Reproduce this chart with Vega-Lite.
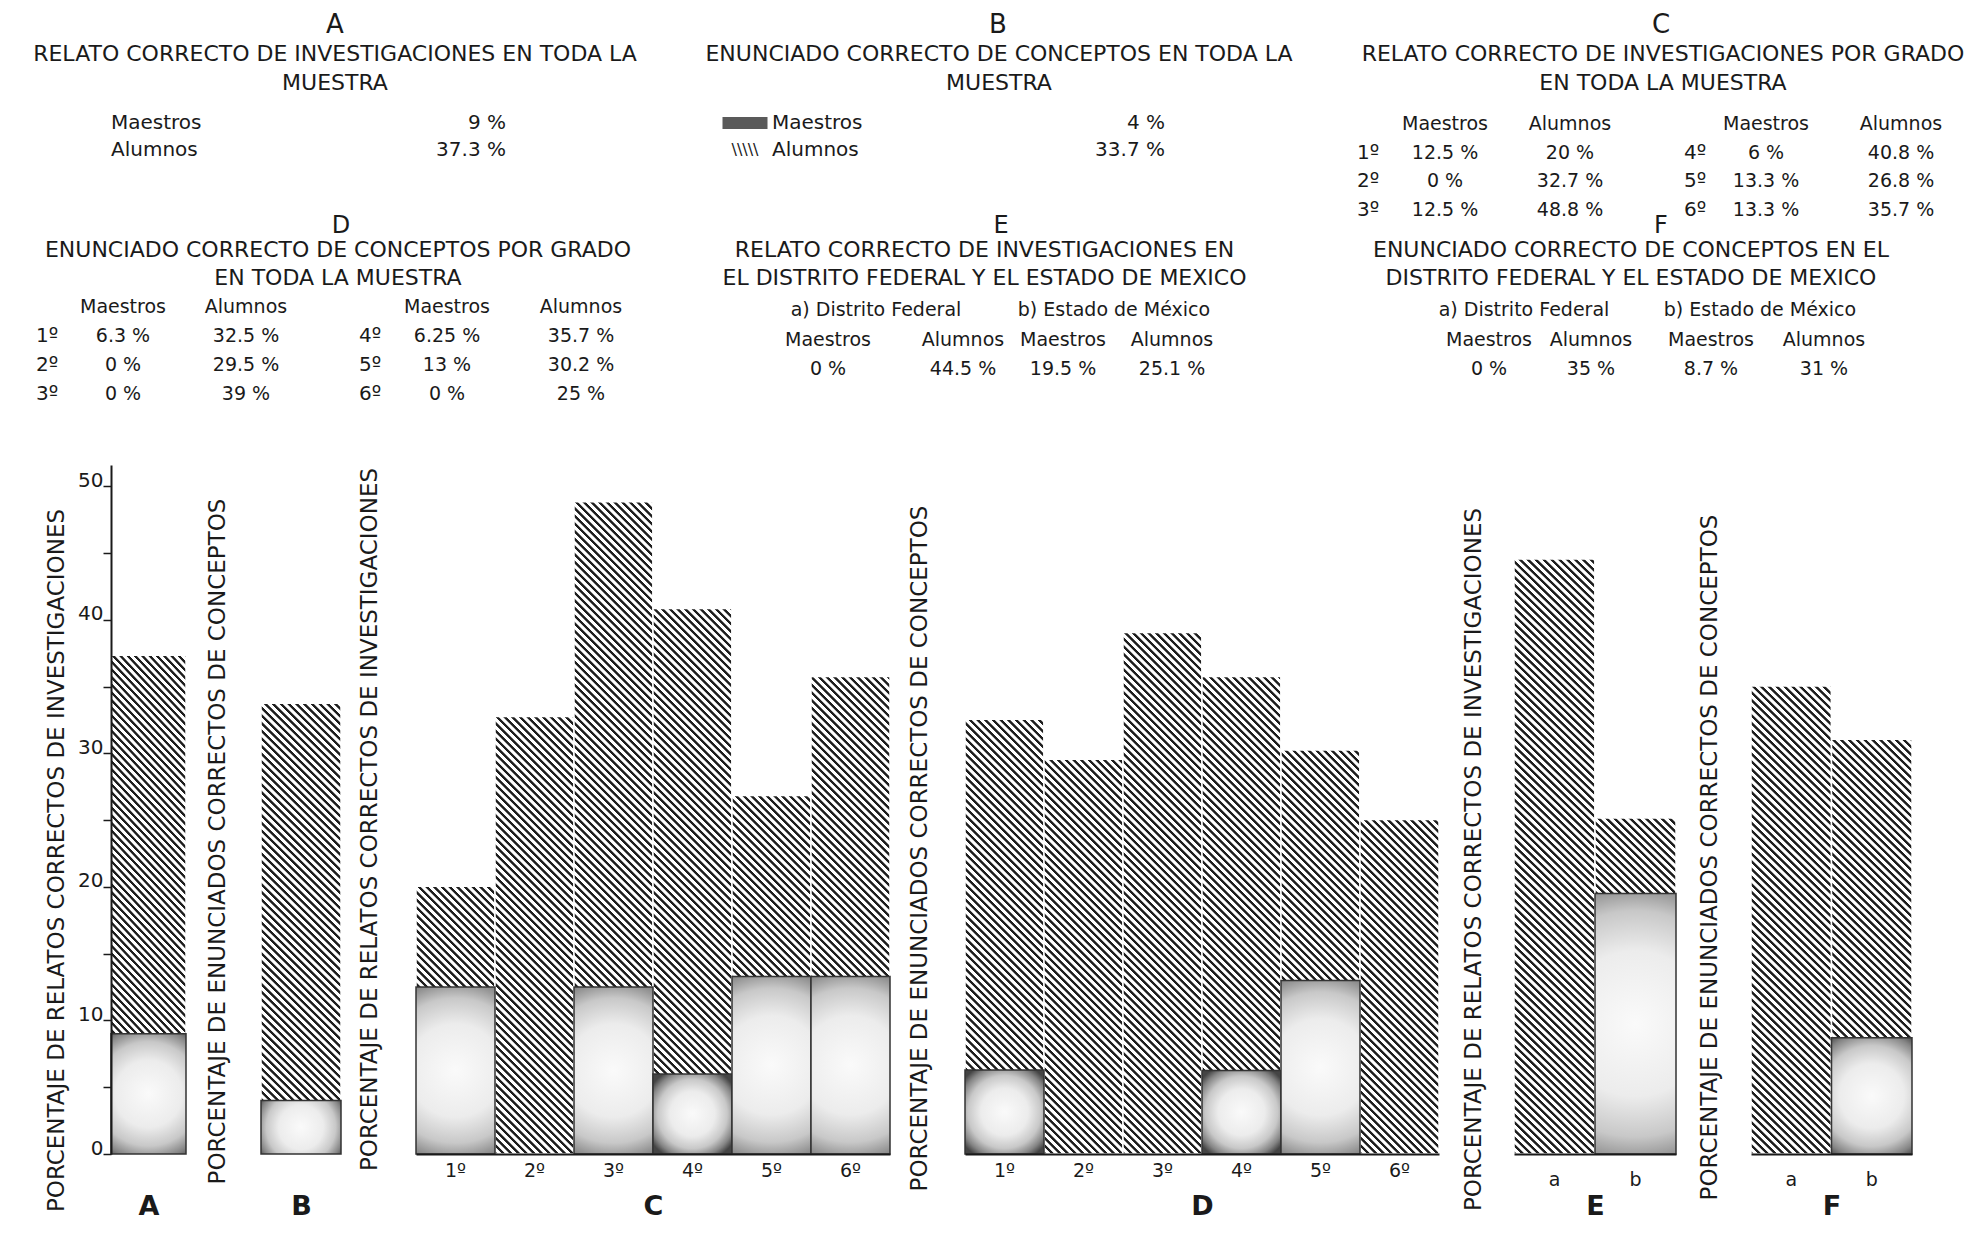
{
"$schema":"https://vega.github.io/schema/vega-lite/v6.json",
"autosize":"none",
"padding":{"left":111,"top":0,"right":1871,"bottom":1251},
"background":"white",
"config":{
 "view":{"stroke":null},
 "font":"DejaVu Sans",
 "text":{"font":"DejaVu Sans","color":"#1a1a1a"},
 "axis":{"labelFont":"DejaVu Sans","titleFont":"DejaVu Sans","grid":false},
 "bar":{"fill":{"gradient":"linear","x1":0,"y1":1,"x2":0.1261,"y2":-0.1002,"stops":[
{"offset":0.00,"color":"#1e1e1e"},{"offset":0.0033,"color":"#1e1e1e"},{"offset":0.0045,"color":"#fff"},{"offset":0.0090,"color":"#fff"},
{"offset":0.01,"color":"#1e1e1e"},{"offset":0.0133,"color":"#1e1e1e"},{"offset":0.0145,"color":"#fff"},{"offset":0.0190,"color":"#fff"},
{"offset":0.02,"color":"#1e1e1e"},{"offset":0.0233,"color":"#1e1e1e"},{"offset":0.0245,"color":"#fff"},{"offset":0.0290,"color":"#fff"},
{"offset":0.03,"color":"#1e1e1e"},{"offset":0.0333,"color":"#1e1e1e"},{"offset":0.0345,"color":"#fff"},{"offset":0.0390,"color":"#fff"},
{"offset":0.04,"color":"#1e1e1e"},{"offset":0.0433,"color":"#1e1e1e"},{"offset":0.0445,"color":"#fff"},{"offset":0.0490,"color":"#fff"},
{"offset":0.05,"color":"#1e1e1e"},{"offset":0.0533,"color":"#1e1e1e"},{"offset":0.0545,"color":"#fff"},{"offset":0.0590,"color":"#fff"},
{"offset":0.06,"color":"#1e1e1e"},{"offset":0.0633,"color":"#1e1e1e"},{"offset":0.0645,"color":"#fff"},{"offset":0.0690,"color":"#fff"},
{"offset":0.07,"color":"#1e1e1e"},{"offset":0.0733,"color":"#1e1e1e"},{"offset":0.0745,"color":"#fff"},{"offset":0.0790,"color":"#fff"},
{"offset":0.08,"color":"#1e1e1e"},{"offset":0.0833,"color":"#1e1e1e"},{"offset":0.0845,"color":"#fff"},{"offset":0.0890,"color":"#fff"},
{"offset":0.09,"color":"#1e1e1e"},{"offset":0.0933,"color":"#1e1e1e"},{"offset":0.0945,"color":"#fff"},{"offset":0.0990,"color":"#fff"},
{"offset":0.10,"color":"#1e1e1e"},{"offset":0.1033,"color":"#1e1e1e"},{"offset":0.1045,"color":"#fff"},{"offset":0.1090,"color":"#fff"},
{"offset":0.11,"color":"#1e1e1e"},{"offset":0.1133,"color":"#1e1e1e"},{"offset":0.1145,"color":"#fff"},{"offset":0.1190,"color":"#fff"},
{"offset":0.12,"color":"#1e1e1e"},{"offset":0.1233,"color":"#1e1e1e"},{"offset":0.1245,"color":"#fff"},{"offset":0.1290,"color":"#fff"},
{"offset":0.13,"color":"#1e1e1e"},{"offset":0.1333,"color":"#1e1e1e"},{"offset":0.1345,"color":"#fff"},{"offset":0.1390,"color":"#fff"},
{"offset":0.14,"color":"#1e1e1e"},{"offset":0.1433,"color":"#1e1e1e"},{"offset":0.1445,"color":"#fff"},{"offset":0.1490,"color":"#fff"},
{"offset":0.15,"color":"#1e1e1e"},{"offset":0.1533,"color":"#1e1e1e"},{"offset":0.1545,"color":"#fff"},{"offset":0.1590,"color":"#fff"},
{"offset":0.16,"color":"#1e1e1e"},{"offset":0.1633,"color":"#1e1e1e"},{"offset":0.1645,"color":"#fff"},{"offset":0.1690,"color":"#fff"},
{"offset":0.17,"color":"#1e1e1e"},{"offset":0.1733,"color":"#1e1e1e"},{"offset":0.1745,"color":"#fff"},{"offset":0.1790,"color":"#fff"},
{"offset":0.18,"color":"#1e1e1e"},{"offset":0.1833,"color":"#1e1e1e"},{"offset":0.1845,"color":"#fff"},{"offset":0.1890,"color":"#fff"},
{"offset":0.19,"color":"#1e1e1e"},{"offset":0.1933,"color":"#1e1e1e"},{"offset":0.1945,"color":"#fff"},{"offset":0.1990,"color":"#fff"},
{"offset":0.20,"color":"#1e1e1e"},{"offset":0.2033,"color":"#1e1e1e"},{"offset":0.2045,"color":"#fff"},{"offset":0.2090,"color":"#fff"},
{"offset":0.21,"color":"#1e1e1e"},{"offset":0.2133,"color":"#1e1e1e"},{"offset":0.2145,"color":"#fff"},{"offset":0.2190,"color":"#fff"},
{"offset":0.22,"color":"#1e1e1e"},{"offset":0.2233,"color":"#1e1e1e"},{"offset":0.2245,"color":"#fff"},{"offset":0.2290,"color":"#fff"},
{"offset":0.23,"color":"#1e1e1e"},{"offset":0.2333,"color":"#1e1e1e"},{"offset":0.2345,"color":"#fff"},{"offset":0.2390,"color":"#fff"},
{"offset":0.24,"color":"#1e1e1e"},{"offset":0.2433,"color":"#1e1e1e"},{"offset":0.2445,"color":"#fff"},{"offset":0.2490,"color":"#fff"},
{"offset":0.25,"color":"#1e1e1e"},{"offset":0.2533,"color":"#1e1e1e"},{"offset":0.2545,"color":"#fff"},{"offset":0.2590,"color":"#fff"},
{"offset":0.26,"color":"#1e1e1e"},{"offset":0.2633,"color":"#1e1e1e"},{"offset":0.2645,"color":"#fff"},{"offset":0.2690,"color":"#fff"},
{"offset":0.27,"color":"#1e1e1e"},{"offset":0.2733,"color":"#1e1e1e"},{"offset":0.2745,"color":"#fff"},{"offset":0.2790,"color":"#fff"},
{"offset":0.28,"color":"#1e1e1e"},{"offset":0.2833,"color":"#1e1e1e"},{"offset":0.2845,"color":"#fff"},{"offset":0.2890,"color":"#fff"},
{"offset":0.29,"color":"#1e1e1e"},{"offset":0.2933,"color":"#1e1e1e"},{"offset":0.2945,"color":"#fff"},{"offset":0.2990,"color":"#fff"},
{"offset":0.30,"color":"#1e1e1e"},{"offset":0.3033,"color":"#1e1e1e"},{"offset":0.3045,"color":"#fff"},{"offset":0.3090,"color":"#fff"},
{"offset":0.31,"color":"#1e1e1e"},{"offset":0.3133,"color":"#1e1e1e"},{"offset":0.3145,"color":"#fff"},{"offset":0.3190,"color":"#fff"},
{"offset":0.32,"color":"#1e1e1e"},{"offset":0.3233,"color":"#1e1e1e"},{"offset":0.3245,"color":"#fff"},{"offset":0.3290,"color":"#fff"},
{"offset":0.33,"color":"#1e1e1e"},{"offset":0.3333,"color":"#1e1e1e"},{"offset":0.3345,"color":"#fff"},{"offset":0.3390,"color":"#fff"},
{"offset":0.34,"color":"#1e1e1e"},{"offset":0.3433,"color":"#1e1e1e"},{"offset":0.3445,"color":"#fff"},{"offset":0.3490,"color":"#fff"},
{"offset":0.35,"color":"#1e1e1e"},{"offset":0.3533,"color":"#1e1e1e"},{"offset":0.3545,"color":"#fff"},{"offset":0.3590,"color":"#fff"},
{"offset":0.36,"color":"#1e1e1e"},{"offset":0.3633,"color":"#1e1e1e"},{"offset":0.3645,"color":"#fff"},{"offset":0.3690,"color":"#fff"},
{"offset":0.37,"color":"#1e1e1e"},{"offset":0.3733,"color":"#1e1e1e"},{"offset":0.3745,"color":"#fff"},{"offset":0.3790,"color":"#fff"},
{"offset":0.38,"color":"#1e1e1e"},{"offset":0.3833,"color":"#1e1e1e"},{"offset":0.3845,"color":"#fff"},{"offset":0.3890,"color":"#fff"},
{"offset":0.39,"color":"#1e1e1e"},{"offset":0.3933,"color":"#1e1e1e"},{"offset":0.3945,"color":"#fff"},{"offset":0.3990,"color":"#fff"},
{"offset":0.40,"color":"#1e1e1e"},{"offset":0.4033,"color":"#1e1e1e"},{"offset":0.4045,"color":"#fff"},{"offset":0.4090,"color":"#fff"},
{"offset":0.41,"color":"#1e1e1e"},{"offset":0.4133,"color":"#1e1e1e"},{"offset":0.4145,"color":"#fff"},{"offset":0.4190,"color":"#fff"},
{"offset":0.42,"color":"#1e1e1e"},{"offset":0.4233,"color":"#1e1e1e"},{"offset":0.4245,"color":"#fff"},{"offset":0.4290,"color":"#fff"},
{"offset":0.43,"color":"#1e1e1e"},{"offset":0.4333,"color":"#1e1e1e"},{"offset":0.4345,"color":"#fff"},{"offset":0.4390,"color":"#fff"},
{"offset":0.44,"color":"#1e1e1e"},{"offset":0.4433,"color":"#1e1e1e"},{"offset":0.4445,"color":"#fff"},{"offset":0.4490,"color":"#fff"},
{"offset":0.45,"color":"#1e1e1e"},{"offset":0.4533,"color":"#1e1e1e"},{"offset":0.4545,"color":"#fff"},{"offset":0.4590,"color":"#fff"},
{"offset":0.46,"color":"#1e1e1e"},{"offset":0.4633,"color":"#1e1e1e"},{"offset":0.4645,"color":"#fff"},{"offset":0.4690,"color":"#fff"},
{"offset":0.47,"color":"#1e1e1e"},{"offset":0.4733,"color":"#1e1e1e"},{"offset":0.4745,"color":"#fff"},{"offset":0.4790,"color":"#fff"},
{"offset":0.48,"color":"#1e1e1e"},{"offset":0.4833,"color":"#1e1e1e"},{"offset":0.4845,"color":"#fff"},{"offset":0.4890,"color":"#fff"},
{"offset":0.49,"color":"#1e1e1e"},{"offset":0.4933,"color":"#1e1e1e"},{"offset":0.4945,"color":"#fff"},{"offset":0.4990,"color":"#fff"},
{"offset":0.50,"color":"#1e1e1e"},{"offset":0.5033,"color":"#1e1e1e"},{"offset":0.5045,"color":"#fff"},{"offset":0.5090,"color":"#fff"},
{"offset":0.51,"color":"#1e1e1e"},{"offset":0.5133,"color":"#1e1e1e"},{"offset":0.5145,"color":"#fff"},{"offset":0.5190,"color":"#fff"},
{"offset":0.52,"color":"#1e1e1e"},{"offset":0.5233,"color":"#1e1e1e"},{"offset":0.5245,"color":"#fff"},{"offset":0.5290,"color":"#fff"},
{"offset":0.53,"color":"#1e1e1e"},{"offset":0.5333,"color":"#1e1e1e"},{"offset":0.5345,"color":"#fff"},{"offset":0.5390,"color":"#fff"},
{"offset":0.54,"color":"#1e1e1e"},{"offset":0.5433,"color":"#1e1e1e"},{"offset":0.5445,"color":"#fff"},{"offset":0.5490,"color":"#fff"},
{"offset":0.55,"color":"#1e1e1e"},{"offset":0.5533,"color":"#1e1e1e"},{"offset":0.5545,"color":"#fff"},{"offset":0.5590,"color":"#fff"},
{"offset":0.56,"color":"#1e1e1e"},{"offset":0.5633,"color":"#1e1e1e"},{"offset":0.5645,"color":"#fff"},{"offset":0.5690,"color":"#fff"},
{"offset":0.57,"color":"#1e1e1e"},{"offset":0.5733,"color":"#1e1e1e"},{"offset":0.5745,"color":"#fff"},{"offset":0.5790,"color":"#fff"},
{"offset":0.58,"color":"#1e1e1e"},{"offset":0.5833,"color":"#1e1e1e"},{"offset":0.5845,"color":"#fff"},{"offset":0.5890,"color":"#fff"},
{"offset":0.59,"color":"#1e1e1e"},{"offset":0.5933,"color":"#1e1e1e"},{"offset":0.5945,"color":"#fff"},{"offset":0.5990,"color":"#fff"},
{"offset":0.60,"color":"#1e1e1e"},{"offset":0.6033,"color":"#1e1e1e"},{"offset":0.6045,"color":"#fff"},{"offset":0.6090,"color":"#fff"},
{"offset":0.61,"color":"#1e1e1e"},{"offset":0.6133,"color":"#1e1e1e"},{"offset":0.6145,"color":"#fff"},{"offset":0.6190,"color":"#fff"},
{"offset":0.62,"color":"#1e1e1e"},{"offset":0.6233,"color":"#1e1e1e"},{"offset":0.6245,"color":"#fff"},{"offset":0.6290,"color":"#fff"},
{"offset":0.63,"color":"#1e1e1e"},{"offset":0.6333,"color":"#1e1e1e"},{"offset":0.6345,"color":"#fff"},{"offset":0.6390,"color":"#fff"},
{"offset":0.64,"color":"#1e1e1e"},{"offset":0.6433,"color":"#1e1e1e"},{"offset":0.6445,"color":"#fff"},{"offset":0.6490,"color":"#fff"},
{"offset":0.65,"color":"#1e1e1e"},{"offset":0.6533,"color":"#1e1e1e"},{"offset":0.6545,"color":"#fff"},{"offset":0.6590,"color":"#fff"},
{"offset":0.66,"color":"#1e1e1e"},{"offset":0.6633,"color":"#1e1e1e"},{"offset":0.6645,"color":"#fff"},{"offset":0.6690,"color":"#fff"},
{"offset":0.67,"color":"#1e1e1e"},{"offset":0.6733,"color":"#1e1e1e"},{"offset":0.6745,"color":"#fff"},{"offset":0.6790,"color":"#fff"},
{"offset":0.68,"color":"#1e1e1e"},{"offset":0.6833,"color":"#1e1e1e"},{"offset":0.6845,"color":"#fff"},{"offset":0.6890,"color":"#fff"},
{"offset":0.69,"color":"#1e1e1e"},{"offset":0.6933,"color":"#1e1e1e"},{"offset":0.6945,"color":"#fff"},{"offset":0.6990,"color":"#fff"},
{"offset":0.70,"color":"#1e1e1e"},{"offset":0.7033,"color":"#1e1e1e"},{"offset":0.7045,"color":"#fff"},{"offset":0.7090,"color":"#fff"},
{"offset":0.71,"color":"#1e1e1e"},{"offset":0.7133,"color":"#1e1e1e"},{"offset":0.7145,"color":"#fff"},{"offset":0.7190,"color":"#fff"},
{"offset":0.72,"color":"#1e1e1e"},{"offset":0.7233,"color":"#1e1e1e"},{"offset":0.7245,"color":"#fff"},{"offset":0.7290,"color":"#fff"},
{"offset":0.73,"color":"#1e1e1e"},{"offset":0.7333,"color":"#1e1e1e"},{"offset":0.7345,"color":"#fff"},{"offset":0.7390,"color":"#fff"},
{"offset":0.74,"color":"#1e1e1e"},{"offset":0.7433,"color":"#1e1e1e"},{"offset":0.7445,"color":"#fff"},{"offset":0.7490,"color":"#fff"},
{"offset":0.75,"color":"#1e1e1e"},{"offset":0.7533,"color":"#1e1e1e"},{"offset":0.7545,"color":"#fff"},{"offset":0.7590,"color":"#fff"},
{"offset":0.76,"color":"#1e1e1e"},{"offset":0.7633,"color":"#1e1e1e"},{"offset":0.7645,"color":"#fff"},{"offset":0.7690,"color":"#fff"},
{"offset":0.77,"color":"#1e1e1e"},{"offset":0.7733,"color":"#1e1e1e"},{"offset":0.7745,"color":"#fff"},{"offset":0.7790,"color":"#fff"},
{"offset":0.78,"color":"#1e1e1e"},{"offset":0.7833,"color":"#1e1e1e"},{"offset":0.7845,"color":"#fff"},{"offset":0.7890,"color":"#fff"},
{"offset":0.79,"color":"#1e1e1e"},{"offset":0.7933,"color":"#1e1e1e"},{"offset":0.7945,"color":"#fff"},{"offset":0.7990,"color":"#fff"},
{"offset":0.80,"color":"#1e1e1e"},{"offset":0.8033,"color":"#1e1e1e"},{"offset":0.8045,"color":"#fff"},{"offset":0.8090,"color":"#fff"},
{"offset":0.81,"color":"#1e1e1e"},{"offset":0.8133,"color":"#1e1e1e"},{"offset":0.8145,"color":"#fff"},{"offset":0.8190,"color":"#fff"},
{"offset":0.82,"color":"#1e1e1e"},{"offset":0.8233,"color":"#1e1e1e"},{"offset":0.8245,"color":"#fff"},{"offset":0.8290,"color":"#fff"},
{"offset":0.83,"color":"#1e1e1e"},{"offset":0.8333,"color":"#1e1e1e"},{"offset":0.8345,"color":"#fff"},{"offset":0.8390,"color":"#fff"},
{"offset":0.84,"color":"#1e1e1e"},{"offset":0.8433,"color":"#1e1e1e"},{"offset":0.8445,"color":"#fff"},{"offset":0.8490,"color":"#fff"},
{"offset":0.85,"color":"#1e1e1e"},{"offset":0.8533,"color":"#1e1e1e"},{"offset":0.8545,"color":"#fff"},{"offset":0.8590,"color":"#fff"},
{"offset":0.86,"color":"#1e1e1e"},{"offset":0.8633,"color":"#1e1e1e"},{"offset":0.8645,"color":"#fff"},{"offset":0.8690,"color":"#fff"},
{"offset":0.87,"color":"#1e1e1e"},{"offset":0.8733,"color":"#1e1e1e"},{"offset":0.8745,"color":"#fff"},{"offset":0.8790,"color":"#fff"},
{"offset":0.88,"color":"#1e1e1e"},{"offset":0.8833,"color":"#1e1e1e"},{"offset":0.8845,"color":"#fff"},{"offset":0.8890,"color":"#fff"},
{"offset":0.89,"color":"#1e1e1e"},{"offset":0.8933,"color":"#1e1e1e"},{"offset":0.8945,"color":"#fff"},{"offset":0.8990,"color":"#fff"},
{"offset":0.90,"color":"#1e1e1e"},{"offset":0.9033,"color":"#1e1e1e"},{"offset":0.9045,"color":"#fff"},{"offset":0.9090,"color":"#fff"},
{"offset":0.91,"color":"#1e1e1e"},{"offset":0.9133,"color":"#1e1e1e"},{"offset":0.9145,"color":"#fff"},{"offset":0.9190,"color":"#fff"},
{"offset":0.92,"color":"#1e1e1e"},{"offset":0.9233,"color":"#1e1e1e"},{"offset":0.9245,"color":"#fff"},{"offset":0.9290,"color":"#fff"},
{"offset":0.93,"color":"#1e1e1e"},{"offset":0.9333,"color":"#1e1e1e"},{"offset":0.9345,"color":"#fff"},{"offset":0.9390,"color":"#fff"},
{"offset":0.94,"color":"#1e1e1e"},{"offset":0.9433,"color":"#1e1e1e"},{"offset":0.9445,"color":"#fff"},{"offset":0.9490,"color":"#fff"},
{"offset":0.95,"color":"#1e1e1e"},{"offset":0.9533,"color":"#1e1e1e"},{"offset":0.9545,"color":"#fff"},{"offset":0.9590,"color":"#fff"},
{"offset":0.96,"color":"#1e1e1e"},{"offset":0.9633,"color":"#1e1e1e"},{"offset":0.9645,"color":"#fff"},{"offset":0.9690,"color":"#fff"},
{"offset":0.97,"color":"#1e1e1e"},{"offset":0.9733,"color":"#1e1e1e"},{"offset":0.9745,"color":"#fff"},{"offset":0.9790,"color":"#fff"},
{"offset":0.98,"color":"#1e1e1e"},{"offset":0.9833,"color":"#1e1e1e"},{"offset":0.9845,"color":"#fff"},{"offset":0.9890,"color":"#fff"},
{"offset":0.99,"color":"#1e1e1e"},{"offset":0.9933,"color":"#1e1e1e"},{"offset":0.9945,"color":"#fff"},{"offset":0.9990,"color":"#fff"}
 ]}}
},
"datasets":{"bars":[
{"panel":"A","cat":"A","Maestros":9,"Alumnos":37.3},
{"panel":"B","cat":"B","Maestros":4,"Alumnos":33.7},
{"panel":"C","cat":"1º","Maestros":12.5,"Alumnos":20},
{"panel":"C","cat":"2º","Maestros":0,"Alumnos":32.7},
{"panel":"C","cat":"3º","Maestros":12.5,"Alumnos":48.8},
{"panel":"C","cat":"4º","Maestros":6,"Alumnos":40.8},
{"panel":"C","cat":"5º","Maestros":13.3,"Alumnos":26.8},
{"panel":"C","cat":"6º","Maestros":13.3,"Alumnos":35.7},
{"panel":"D","cat":"1º","Maestros":6.3,"Alumnos":32.5},
{"panel":"D","cat":"2º","Maestros":0,"Alumnos":29.5},
{"panel":"D","cat":"3º","Maestros":0,"Alumnos":39},
{"panel":"D","cat":"4º","Maestros":6.25,"Alumnos":35.7},
{"panel":"D","cat":"5º","Maestros":13,"Alumnos":30.2},
{"panel":"D","cat":"6º","Maestros":0,"Alumnos":25},
{"panel":"E","cat":"a","Maestros":0,"Alumnos":44.5},
{"panel":"E","cat":"b","Maestros":19.5,"Alumnos":25.1},
{"panel":"F","cat":"a","Maestros":0,"Alumnos":35},
{"panel":"F","cat":"b","Maestros":8.7,"Alumnos":31}
]},
"spacing":24,
"vconcat":[
{
 "width":1871,"height":440,
 "resolve":{"scale":{"x":"independent","y":"independent"}},
 "layer":[
  {"data":{"values":[{"g":"L","t":"A"},{"g":"M","t":"B"},{"g":"R","t":"C"}]},
   "mark":{"type":"text","fontSize":26,"baseline":"middle","align":"center"},
   "encoding":{"x":{"field":"g","type":"nominal","axis":null,"scale":{"type":"point","domain":["L","M","R"],"range":[224,1550],"padding":0}},
    "y":{"field":"g","type":"nominal","axis":null,"scale":{"type":"point","domain":["L","M","R"],"range":[25,25],"padding":0}},
    "text":{"field":"t"}}},
  {"data":{"values":[{"g":"L","t":"D"},{"g":"M","t":"E"},{"g":"R","t":"F"}]},
   "mark":{"type":"text","fontSize":24,"baseline":"middle","align":"center"},
   "encoding":{"x":{"field":"g","type":"nominal","axis":null,"scale":{"type":"point","domain":["L","M","R"],"range":[230,1550],"padding":0}},
    "y":{"field":"g","type":"nominal","axis":null,"scale":{"type":"point","domain":["L","M","R"],"range":[226,226],"padding":0}},
    "text":{"field":"t"}}},
  {"data":{"values":[
    {"g":"L","ln":"1","t":"RELATO CORRECTO DE INVESTIGACIONES EN TODA LA"},{"g":"L","ln":"2","t":"MUESTRA"},
    {"g":"M","ln":"1","t":"ENUNCIADO CORRECTO DE CONCEPTOS EN TODA LA"},{"g":"M","ln":"2","t":"MUESTRA"},
    {"g":"R","ln":"1","t":"RELATO CORRECTO DE INVESTIGACIONES POR GRADO"},{"g":"R","ln":"2","t":"EN TODA LA MUESTRA"}]},
   "mark":{"type":"text","fontSize":22,"baseline":"middle","align":"center"},
   "encoding":{"x":{"field":"g","type":"nominal","axis":null,"scale":{"type":"point","domain":["L","M","R"],"range":[224,1552],"padding":0}},
    "y":{"field":"ln","type":"nominal","axis":null,"scale":{"type":"point","domain":["1","2"],"range":[54,83],"padding":0}},
    "text":{"field":"t"}}},
  {"data":{"values":[
    {"g":"L","ln":"1","t":"ENUNCIADO CORRECTO DE CONCEPTOS POR GRADO"},{"g":"L","ln":"2","t":"EN TODA LA MUESTRA"},
    {"g":"M","ln":"1","t":"RELATO CORRECTO DE INVESTIGACIONES EN"},{"g":"M","ln":"2","t":"EL DISTRITO FEDERAL Y EL ESTADO DE MEXICO"},
    {"g":"R","ln":"1","t":"ENUNCIADO CORRECTO DE CONCEPTOS EN EL"},{"g":"R","ln":"2","t":"DISTRITO FEDERAL Y EL ESTADO DE MEXICO"}]},
   "mark":{"type":"text","fontSize":22,"baseline":"middle","align":"center"},
   "encoding":{"x":{"field":"g","type":"nominal","axis":null,"scale":{"type":"point","domain":["L","M","R"],"range":[227,1520],"padding":0}},
    "y":{"field":"ln","type":"nominal","axis":null,"scale":{"type":"point","domain":["1","2"],"range":[250,278],"padding":0}},
    "text":{"field":"t"}}},
  {"data":{"values":[{"c":"lbl","r":"M","t":"Maestros"},{"c":"val","r":"M","t":"9 %"},{"c":"lbl","r":"A","t":"Alumnos"},{"c":"val","r":"A","t":"37.3 %"}]},
   "mark":{"type":"text","fontSize":20,"baseline":"middle","align":{"expr":"datum.c === 'lbl' ? 'left' : 'right'"}},
   "encoding":{"x":{"field":"c","type":"nominal","axis":null,"scale":{"type":"point","domain":["lbl","val"],"range":[0,395],"padding":0}},
    "y":{"field":"r","type":"nominal","axis":null,"scale":{"type":"point","domain":["M","A"],"range":[123,150],"padding":0}},
    "text":{"field":"t"}}},
  {"data":{"values":[{"c":"lbl","r":"M","t":"Maestros"},{"c":"val","r":"M","t":"4 %"},{"c":"lbl","r":"A","t":"Alumnos"},{"c":"val","r":"A","t":"33.7 %"}]},
   "mark":{"type":"text","fontSize":20,"baseline":"middle","align":{"expr":"datum.c === 'lbl' ? 'left' : 'right'"}},
   "encoding":{"x":{"field":"c","type":"nominal","axis":null,"scale":{"type":"point","domain":["lbl","val"],"range":[661,1054],"padding":0}},
    "y":{"field":"r","type":"nominal","axis":null,"scale":{"type":"point","domain":["M","A"],"range":[123,150],"padding":0}},
    "text":{"field":"t"}}},
  {"data":{"values":[{"c":"sw","r":"M"}]},
   "mark":{"type":"point","shape":"M-1,-0.27H1V0.27H-1Z","size":2025,"filled":true,"color":"#5a5a5a","opacity":1},
   "encoding":{"x":{"field":"c","type":"nominal","axis":null,"scale":{"type":"point","domain":["sw"],"range":[634,634],"padding":0}},
    "y":{"field":"r","type":"nominal","axis":null,"scale":{"type":"point","domain":["M","A"],"range":[123,150],"padding":0}}}},
  {"data":{"values":[{"c":"sw","r":"A","t":"\\\\\\\\\\"}]},
   "mark":{"type":"text","fontSize":16,"baseline":"middle","align":"center"},
   "encoding":{"x":{"field":"c","type":"nominal","axis":null,"scale":{"type":"point","domain":["sw"],"range":[634,634],"padding":0}},
    "y":{"field":"r","type":"nominal","axis":null,"scale":{"type":"point","domain":["M","A"],"range":[123,150],"padding":0}},
    "text":{"field":"t"}}},
  {"data":{"values":[{"h":"L","r":"1","t":"1º"},{"h":"L","r":"2","t":"2º"},{"h":"L","r":"3","t":"3º"},{"h":"R","r":"1","t":"4º"},{"h":"R","r":"2","t":"5º"},{"h":"R","r":"3","t":"6º"}]},
   "mark":{"type":"text","fontSize":20,"baseline":"middle","align":"center"},
   "encoding":{"x":{"field":"h","type":"nominal","axis":null,"scale":{"type":"point","domain":["L","R"],"range":[1257,1584],"padding":0}},
    "y":{"field":"r","type":"nominal","axis":null,"scale":{"type":"point","domain":["h","1","2","3"],"range":[124,210],"padding":0}},
    "text":{"field":"t"}}},
  {"data":{"values":[{"h":"L","r":"h","t":"Maestros"},{"h":"R","r":"h","t":"Maestros"},{"h":"L","r":"1","t":"12.5 %"},{"h":"L","r":"2","t":"0 %"},{"h":"L","r":"3","t":"12.5 %"},{"h":"R","r":"1","t":"6 %"},{"h":"R","r":"2","t":"13.3 %"},{"h":"R","r":"3","t":"13.3 %"}]},
   "mark":{"type":"text","fontSize":19,"baseline":"middle","align":"center"},
   "encoding":{"x":{"field":"h","type":"nominal","axis":null,"scale":{"type":"point","domain":["L","R"],"range":[1334,1655],"padding":0}},
    "y":{"field":"r","type":"nominal","axis":null,"scale":{"type":"point","domain":["h","1","2","3"],"range":[124,210],"padding":0}},
    "text":{"field":"t"}}},
  {"data":{"values":[{"h":"L","r":"h","t":"Alumnos"},{"h":"R","r":"h","t":"Alumnos"},{"h":"L","r":"1","t":"20 %"},{"h":"L","r":"2","t":"32.7 %"},{"h":"L","r":"3","t":"48.8 %"},{"h":"R","r":"1","t":"40.8 %"},{"h":"R","r":"2","t":"26.8 %"},{"h":"R","r":"3","t":"35.7 %"}]},
   "mark":{"type":"text","fontSize":19,"baseline":"middle","align":"center"},
   "encoding":{"x":{"field":"h","type":"nominal","axis":null,"scale":{"type":"point","domain":["L","R"],"range":[1459,1790],"padding":0}},
    "y":{"field":"r","type":"nominal","axis":null,"scale":{"type":"point","domain":["h","1","2","3"],"range":[124,210],"padding":0}},
    "text":{"field":"t"}}},
  {"data":{"values":[{"h":"L","r":"1","t":"1º"},{"h":"L","r":"2","t":"2º"},{"h":"L","r":"3","t":"3º"},{"h":"R","r":"1","t":"4º"},{"h":"R","r":"2","t":"5º"},{"h":"R","r":"3","t":"6º"}]},
   "mark":{"type":"text","fontSize":20,"baseline":"middle","align":"center"},
   "encoding":{"x":{"field":"h","type":"nominal","axis":null,"scale":{"type":"point","domain":["L","R"],"range":[-64,259],"padding":0}},
    "y":{"field":"r","type":"nominal","axis":null,"scale":{"type":"point","domain":["h","1","2","3"],"range":[307,394],"padding":0}},
    "text":{"field":"t"}}},
  {"data":{"values":[{"h":"L","r":"h","t":"Maestros"},{"h":"R","r":"h","t":"Maestros"},{"h":"L","r":"1","t":"6.3 %"},{"h":"L","r":"2","t":"0 %"},{"h":"L","r":"3","t":"0 %"},{"h":"R","r":"1","t":"6.25 %"},{"h":"R","r":"2","t":"13 %"},{"h":"R","r":"3","t":"0 %"}]},
   "mark":{"type":"text","fontSize":19,"baseline":"middle","align":"center"},
   "encoding":{"x":{"field":"h","type":"nominal","axis":null,"scale":{"type":"point","domain":["L","R"],"range":[12,336],"padding":0}},
    "y":{"field":"r","type":"nominal","axis":null,"scale":{"type":"point","domain":["h","1","2","3"],"range":[307,394],"padding":0}},
    "text":{"field":"t"}}},
  {"data":{"values":[{"h":"L","r":"h","t":"Alumnos"},{"h":"R","r":"h","t":"Alumnos"},{"h":"L","r":"1","t":"32.5 %"},{"h":"L","r":"2","t":"29.5 %"},{"h":"L","r":"3","t":"39 %"},{"h":"R","r":"1","t":"35.7 %"},{"h":"R","r":"2","t":"30.2 %"},{"h":"R","r":"3","t":"25 %"}]},
   "mark":{"type":"text","fontSize":19,"baseline":"middle","align":"center"},
   "encoding":{"x":{"field":"h","type":"nominal","axis":null,"scale":{"type":"point","domain":["L","R"],"range":[135,470],"padding":0}},
    "y":{"field":"r","type":"nominal","axis":null,"scale":{"type":"point","domain":["h","1","2","3"],"range":[307,394],"padding":0}},
    "text":{"field":"t"}}},
  {"data":{"values":[{"s":"a","r":"reg","t":"a) Distrito Federal"},{"s":"b","r":"reg","t":"b) Estado de México"}]},
   "mark":{"type":"text","fontSize":19,"baseline":"middle","align":"center"},
   "encoding":{"x":{"field":"s","type":"nominal","axis":null,"scale":{"type":"point","domain":["a","b"],"range":[765,1003],"padding":0}},
    "y":{"field":"r","type":"nominal","axis":null,"scale":{"type":"point","domain":["reg"],"range":[310,310],"padding":0}},
    "text":{"field":"t"}}},
  {"data":{"values":[{"s":"a","r":"h","t":"Maestros"},{"s":"b","r":"h","t":"Maestros"},{"s":"a","r":"v","t":"0 %"},{"s":"b","r":"v","t":"19.5 %"}]},
   "mark":{"type":"text","fontSize":19,"baseline":"middle","align":"center"},
   "encoding":{"x":{"field":"s","type":"nominal","axis":null,"scale":{"type":"point","domain":["a","b"],"range":[717,952],"padding":0}},
    "y":{"field":"r","type":"nominal","axis":null,"scale":{"type":"point","domain":["h","v"],"range":[340,369],"padding":0}},
    "text":{"field":"t"}}},
  {"data":{"values":[{"s":"a","r":"h","t":"Alumnos"},{"s":"b","r":"h","t":"Alumnos"},{"s":"a","r":"v","t":"44.5 %"},{"s":"b","r":"v","t":"25.1 %"}]},
   "mark":{"type":"text","fontSize":19,"baseline":"middle","align":"center"},
   "encoding":{"x":{"field":"s","type":"nominal","axis":null,"scale":{"type":"point","domain":["a","b"],"range":[852,1061],"padding":0}},
    "y":{"field":"r","type":"nominal","axis":null,"scale":{"type":"point","domain":["h","v"],"range":[340,369],"padding":0}},
    "text":{"field":"t"}}},
  {"data":{"values":[{"s":"a","r":"reg","t":"a) Distrito Federal"},{"s":"b","r":"reg","t":"b) Estado de México"}]},
   "mark":{"type":"text","fontSize":19,"baseline":"middle","align":"center"},
   "encoding":{"x":{"field":"s","type":"nominal","axis":null,"scale":{"type":"point","domain":["a","b"],"range":[1413,1649],"padding":0}},
    "y":{"field":"r","type":"nominal","axis":null,"scale":{"type":"point","domain":["reg"],"range":[310,310],"padding":0}},
    "text":{"field":"t"}}},
  {"data":{"values":[{"s":"a","r":"h","t":"Maestros"},{"s":"b","r":"h","t":"Maestros"},{"s":"a","r":"v","t":"0 %"},{"s":"b","r":"v","t":"8.7 %"}]},
   "mark":{"type":"text","fontSize":19,"baseline":"middle","align":"center"},
   "encoding":{"x":{"field":"s","type":"nominal","axis":null,"scale":{"type":"point","domain":["a","b"],"range":[1378,1600],"padding":0}},
    "y":{"field":"r","type":"nominal","axis":null,"scale":{"type":"point","domain":["h","v"],"range":[340,369],"padding":0}},
    "text":{"field":"t"}}},
  {"data":{"values":[{"s":"a","r":"h","t":"Alumnos"},{"s":"b","r":"h","t":"Alumnos"},{"s":"a","r":"v","t":"35 %"},{"s":"b","r":"v","t":"31 %"}]},
   "mark":{"type":"text","fontSize":19,"baseline":"middle","align":"center"},
   "encoding":{"x":{"field":"s","type":"nominal","axis":null,"scale":{"type":"point","domain":["a","b"],"range":[1480,1713],"padding":0}},
    "y":{"field":"r","type":"nominal","axis":null,"scale":{"type":"point","domain":["h","v"],"range":[340,369],"padding":0}},
    "text":{"field":"t"}}}
 ]
},
{
 "hconcat":[
  {"width":75,"height":689,"data":{"name":"bars"},"transform":[{"filter":"datum.panel === 'A'"}],
   "encoding":{"x":{"field":"cat","type":"nominal","sort":null,"scale":{"paddingInner":0,"paddingOuter":0},
     "axis":{"title":"A","labels":false,"ticks":false,"domain":false,"titleFontSize":27,"titleFontWeight":"bold","titleY":52,"titleBaseline":"middle","titleColor":"#1a1a1a"}}},
   "layer":[
    {"mark":{"type":"bar","stroke":"#fff","strokeWidth":1.5},
     "encoding":{"y":{"datum":51.6,"type":"quantitative","scale":{"domain":[0,51.6],"nice":false},
       "axis":{"title":"PORCENTAJE DE RELATOS CORRECTOS DE INVESTIGACIONES","titleX":-55,"titleY":395,"titleAngle":270,"titleAlign":"center","titleBaseline":"middle","titleFontSize":23,"titleFontWeight":"normal","titleColor":"#1a1a1a",
        "values":[0,5,10,15,20,25,30,35,40,45,50],"labelExpr":"datum.value % 10 === 0 ? datum.label : ''","labelFontSize":20,"labelColor":"#1a1a1a","labelBaseline":"alphabetic","labelPadding":0,"labelFlush":false,"labelOverlap":false,
        "tickSize":8,"tickWidth":1.5,"tickColor":"#1a1a1a","domainWidth":2,"domainColor":"#1a1a1a","zindex":1}},
      "y2":{"datum":0}}},
    {"mark":{"type":"bar","fill":"#fff"},"encoding":{"y":{"field":"Alumnos","type":"quantitative"},"y2":{"datum":51.6}}},
    {"transform":[{"filter":"datum.Maestros > 0"}],
     "mark":{"type":"bar","stroke":"#333","strokeWidth":1.5,"fill":{"gradient":"radial","x1":0.5,"y1":0.5,"r1":0,"x2":0.5,"y2":0.5,"r2":0.62,"stops":[{"offset":0,"color":"#fafafa"},{"offset":0.45,"color":"#ececec"},{"offset":0.7,"color":"#c8c8c8"},{"offset":0.88,"color":"#858585"},{"offset":1,"color":"#444444"}]}},
     "encoding":{"y":{"field":"Maestros","type":"quantitative"},"y2":{"datum":0}}}
   ]},
  {"width":80,"height":689,"data":{"name":"bars"},"transform":[{"filter":"datum.panel === 'B'"}],
   "encoding":{"x":{"field":"cat","type":"nominal","sort":null,"scale":{"paddingInner":0,"paddingOuter":0},
     "axis":{"title":"B","labels":false,"ticks":false,"domain":false,"titleFontSize":27,"titleFontWeight":"bold","titleY":52,"titleBaseline":"middle","titleColor":"#1a1a1a"}}},
   "layer":[
    {"mark":{"type":"bar","stroke":"#fff","strokeWidth":1.5},
     "encoding":{"y":{"datum":51.6,"type":"quantitative","scale":{"domain":[0,51.6],"nice":false},
       "axis":{"title":"PORCENTAJE DE ENUNCIADOS CORRECTOS DE CONCEPTOS","titleX":-44,"titleY":376,"titleAngle":270,"titleAlign":"center","titleBaseline":"middle","titleFontSize":23,"titleFontWeight":"normal","titleColor":"#1a1a1a","labels":false,"ticks":false,"domain":false}},
      "y2":{"datum":0}}},
    {"mark":{"type":"bar","fill":"#fff"},"encoding":{"y":{"field":"Alumnos","type":"quantitative"},"y2":{"datum":51.6}}},
    {"transform":[{"filter":"datum.Maestros > 0"}],
     "mark":{"type":"bar","stroke":"#333","strokeWidth":1.5,"fill":{"gradient":"radial","x1":0.5,"y1":0.5,"r1":0,"x2":0.5,"y2":0.5,"r2":0.62,"stops":[{"offset":0,"color":"#fafafa"},{"offset":0.45,"color":"#ececec"},{"offset":0.7,"color":"#c8c8c8"},{"offset":0.88,"color":"#858585"},{"offset":1,"color":"#444444"}]}},
     "encoding":{"y":{"field":"Maestros","type":"quantitative"},"y2":{"datum":0}}}
   ]},
  {"width":474,"height":689,"data":{"name":"bars"},"transform":[{"filter":"datum.panel === 'C'"}],
   "encoding":{"x":{"field":"cat","type":"nominal","sort":null,"scale":{"paddingInner":0,"paddingOuter":0},
     "axis":{"title":"C","labelAngle":0,"labelFontSize":19,"labelColor":"#1a1a1a","labelPadding":16,"labelBaseline":"middle","ticks":false,"tickSize":0,"domain":true,"domainWidth":2,"domainColor":"#1a1a1a","titleFontSize":27,"titleFontWeight":"bold","titleY":52,"titleBaseline":"middle","titleColor":"#1a1a1a","zindex":1}}},
   "layer":[
    {"mark":{"type":"bar","stroke":"#fff","strokeWidth":1.5},
     "encoding":{"y":{"datum":51.6,"type":"quantitative","scale":{"domain":[0,51.6],"nice":false},
       "axis":{"title":"PORCENTAJE DE RELATOS CORRECTOS DE INVESTIGACIONES","titleX":-47,"titleY":354,"titleAngle":270,"titleAlign":"center","titleBaseline":"middle","titleFontSize":23,"titleFontWeight":"normal","titleColor":"#1a1a1a","labels":false,"ticks":false,"domain":false}},
      "y2":{"datum":0}}},
    {"mark":{"type":"bar","fill":"#fff"},"encoding":{"y":{"field":"Alumnos","type":"quantitative"},"y2":{"datum":51.6}}},
    {"transform":[{"filter":"datum.Maestros > 0"}],
     "mark":{"type":"bar","stroke":"#333","strokeWidth":1.5,"fill":{"gradient":"radial","x1":0.5,"y1":0.5,"r1":0,"x2":0.5,"y2":0.5,"r2":0.62,"stops":[{"offset":0,"color":"#fafafa"},{"offset":0.45,"color":"#ececec"},{"offset":0.7,"color":"#c8c8c8"},{"offset":0.88,"color":"#858585"},{"offset":1,"color":"#444444"}]}},
     "encoding":{"y":{"field":"Maestros","type":"quantitative"},"y2":{"datum":0}}}
   ]},
  {"width":474,"height":689,"data":{"name":"bars"},"transform":[{"filter":"datum.panel === 'D'"}],
   "encoding":{"x":{"field":"cat","type":"nominal","sort":null,"scale":{"paddingInner":0,"paddingOuter":0},
     "axis":{"title":"D","labelAngle":0,"labelFontSize":19,"labelColor":"#1a1a1a","labelPadding":16,"labelBaseline":"middle","ticks":false,"tickSize":0,"domain":true,"domainWidth":2,"domainColor":"#1a1a1a","titleFontSize":27,"titleFontWeight":"bold","titleY":52,"titleBaseline":"middle","titleColor":"#1a1a1a","zindex":1}}},
   "layer":[
    {"mark":{"type":"bar","stroke":"#fff","strokeWidth":1.5},
     "encoding":{"y":{"datum":51.6,"type":"quantitative","scale":{"domain":[0,51.6],"nice":false},
       "axis":{"title":"PORCENTAJE DE ENUNCIADOS CORRECTOS DE CONCEPTOS","titleX":-46,"titleY":383,"titleAngle":270,"titleAlign":"center","titleBaseline":"middle","titleFontSize":23,"titleFontWeight":"normal","titleColor":"#1a1a1a","labels":false,"ticks":false,"domain":false}},
      "y2":{"datum":0}}},
    {"mark":{"type":"bar","fill":"#fff"},"encoding":{"y":{"field":"Alumnos","type":"quantitative"},"y2":{"datum":51.6}}},
    {"transform":[{"filter":"datum.Maestros > 0"}],
     "mark":{"type":"bar","stroke":"#333","strokeWidth":1.5,"fill":{"gradient":"radial","x1":0.5,"y1":0.5,"r1":0,"x2":0.5,"y2":0.5,"r2":0.62,"stops":[{"offset":0,"color":"#fafafa"},{"offset":0.45,"color":"#ececec"},{"offset":0.7,"color":"#c8c8c8"},{"offset":0.88,"color":"#858585"},{"offset":1,"color":"#444444"}]}},
     "encoding":{"y":{"field":"Maestros","type":"quantitative"},"y2":{"datum":0}}}
   ]},
  {"width":162,"height":689,"data":{"name":"bars"},"transform":[{"filter":"datum.panel === 'E'"}],
   "encoding":{"x":{"field":"cat","type":"nominal","sort":null,"scale":{"paddingInner":0,"paddingOuter":0},
     "axis":{"title":"E","labelAngle":0,"labelFontSize":19,"labelColor":"#1a1a1a","labelPadding":25,"labelBaseline":"middle","ticks":false,"tickSize":0,"domain":true,"domainWidth":2,"domainColor":"#1a1a1a","titleFontSize":27,"titleFontWeight":"bold","titleY":52,"titleBaseline":"middle","titleColor":"#1a1a1a","zindex":1}}},
   "layer":[
    {"mark":{"type":"bar","stroke":"#fff","strokeWidth":1.5},
     "encoding":{"y":{"datum":51.6,"type":"quantitative","scale":{"domain":[0,51.6],"nice":false},
       "axis":{"title":"PORCENTAJE DE RELATOS CORRECTOS DE INVESTIGACIONES","titleX":-41,"titleY":394,"titleAngle":270,"titleAlign":"center","titleBaseline":"middle","titleFontSize":23,"titleFontWeight":"normal","titleColor":"#1a1a1a","labels":false,"ticks":false,"domain":false}},
      "y2":{"datum":0}}},
    {"mark":{"type":"bar","fill":"#fff"},"encoding":{"y":{"field":"Alumnos","type":"quantitative"},"y2":{"datum":51.6}}},
    {"transform":[{"filter":"datum.Maestros > 0"}],
     "mark":{"type":"bar","stroke":"#333","strokeWidth":1.5,"fill":{"gradient":"radial","x1":0.5,"y1":0.5,"r1":0,"x2":0.5,"y2":0.5,"r2":0.62,"stops":[{"offset":0,"color":"#fafafa"},{"offset":0.45,"color":"#ececec"},{"offset":0.7,"color":"#c8c8c8"},{"offset":0.88,"color":"#858585"},{"offset":1,"color":"#444444"}]}},
     "encoding":{"y":{"field":"Maestros","type":"quantitative"},"y2":{"datum":0}}}
   ]},
  {"width":161,"height":689,"data":{"name":"bars"},"transform":[{"filter":"datum.panel === 'F'"}],
   "encoding":{"x":{"field":"cat","type":"nominal","sort":null,"scale":{"paddingInner":0,"paddingOuter":0},
     "axis":{"title":"F","labelAngle":0,"labelFontSize":19,"labelColor":"#1a1a1a","labelPadding":25,"labelBaseline":"middle","ticks":false,"tickSize":0,"domain":true,"domainWidth":2,"domainColor":"#1a1a1a","titleFontSize":27,"titleFontWeight":"bold","titleY":52,"titleBaseline":"middle","titleColor":"#1a1a1a","zindex":1}}},
   "layer":[
    {"mark":{"type":"bar","stroke":"#fff","strokeWidth":1.5},
     "encoding":{"y":{"datum":51.6,"type":"quantitative","scale":{"domain":[0,51.6],"nice":false},
       "axis":{"title":"PORCENTAJE DE ENUNCIADOS CORRECTOS DE CONCEPTOS","titleX":-42,"titleY":392,"titleAngle":270,"titleAlign":"center","titleBaseline":"middle","titleFontSize":23,"titleFontWeight":"normal","titleColor":"#1a1a1a","labels":false,"ticks":false,"domain":false}},
      "y2":{"datum":0}}},
    {"mark":{"type":"bar","fill":"#fff"},"encoding":{"y":{"field":"Alumnos","type":"quantitative"},"y2":{"datum":51.6}}},
    {"transform":[{"filter":"datum.Maestros > 0"}],
     "mark":{"type":"bar","stroke":"#333","strokeWidth":1.5,"fill":{"gradient":"radial","x1":0.5,"y1":0.5,"r1":0,"x2":0.5,"y2":0.5,"r2":0.62,"stops":[{"offset":0,"color":"#fafafa"},{"offset":0.45,"color":"#ececec"},{"offset":0.7,"color":"#c8c8c8"},{"offset":0.88,"color":"#858585"},{"offset":1,"color":"#444444"}]}},
     "encoding":{"y":{"field":"Maestros","type":"quantitative"},"y2":{"datum":0}}}
   ]}
 ],
 "spacing":75,
 "bounds":"flush"
}
]
}
